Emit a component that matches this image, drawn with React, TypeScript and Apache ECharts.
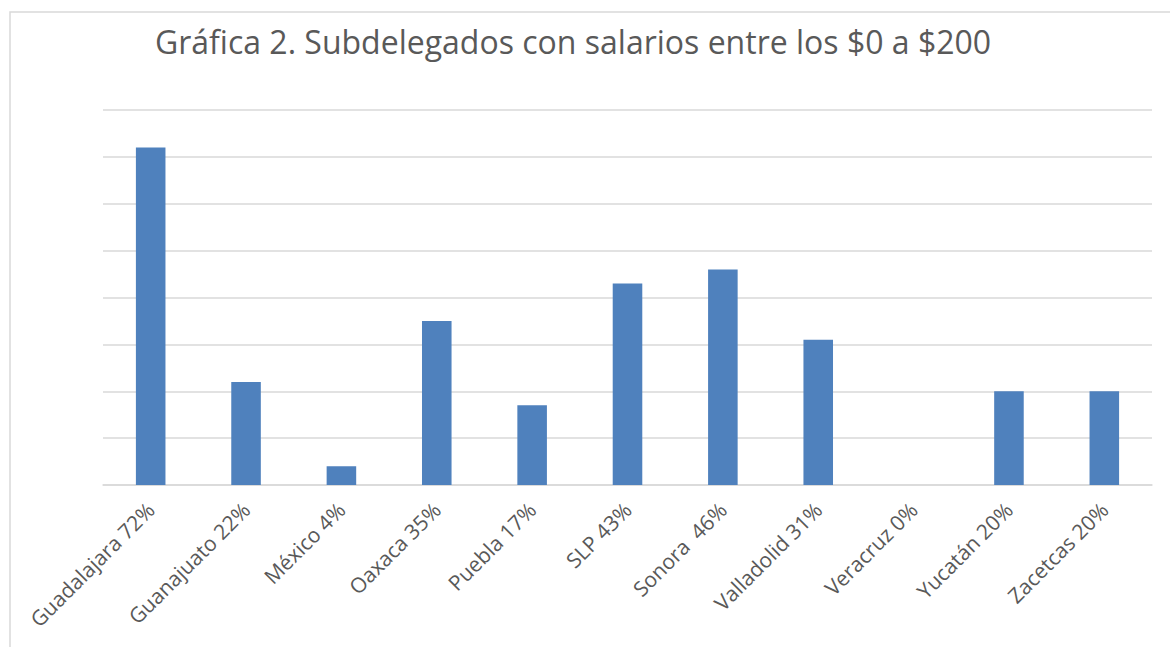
import React, { useEffect, useRef } from "react";
import * as echarts from "echarts";

const titleText = "Gráfica 2. Subdelegados con salarios entre los $0 a $200";
const categories = [
  "Guadalajara 72%",
  "Guanajuato 22%",
  "México 4%",
  "Oaxaca 35%",
  "Puebla 17%",
  "SLP 43%",
  "Sonora  46%",
  "Valladolid 31%",
  "Veracruz 0%",
  "Yucatán 20%",
  "Zacetcas 20%",
];
const values = [72, 22, 4, 35, 17, 43, 46, 31, 0, 20, 20];

export default function App() {
  const ref = useRef<HTMLDivElement>(null);
  useEffect(() => {
    if (!ref.current) return;
    const chart = echarts.init(ref.current, null, { renderer: "svg" });
    chart.setOption({
      animation: false,
      backgroundColor: "#ffffff",
      title: {
        text: titleText,
        left: 568,
        textAlign: "center",
        top: 20,
        textStyle: {
          fontFamily: "Open Sans",
          fontSize: 32,
          fontWeight: "normal",
          color: "#595959",
        },
      },
      graphic: [
        {
          type: "rect",
          shape: { x: 10, y: 12, width: 1300, height: 800 },
          style: { fill: "none", stroke: "#d9d9d9", lineWidth: 1.5 },
          silent: true,
        },
      ],
      grid: { left: 103, right: 18, top: 110, bottom: 162, containLabel: false },
      xAxis: {
        type: "category",
        data: categories,
        axisLine: { lineStyle: { color: "#d9d9d9", width: 1.5 } },
        axisTick: { show: false },
        axisLabel: {
          interval: 0,
          rotate: 45,
          margin: 21,
          fontFamily: "Open Sans",
          fontSize: 21,
          color: "#595959",
        },
      },
      yAxis: {
        type: "value",
        min: 0,
        max: 80,
        interval: 10,
        axisLabel: { show: false },
        axisLine: { show: false },
        axisTick: { show: false },
        splitLine: { lineStyle: { color: "#d9d9d9", width: 1.5 } },
      },
      series: [
        {
          type: "bar",
          data: values,
          barWidth: "31%",
          itemStyle: { color: "#4f81bd" },
        },
      ],
    });
    return () => chart.dispose();
  }, []);
  return (
    <div
      ref={ref}
      style={{ position: "absolute", left: 0, top: 0, width: 1170, height: 647 }}
    />
  );
}
